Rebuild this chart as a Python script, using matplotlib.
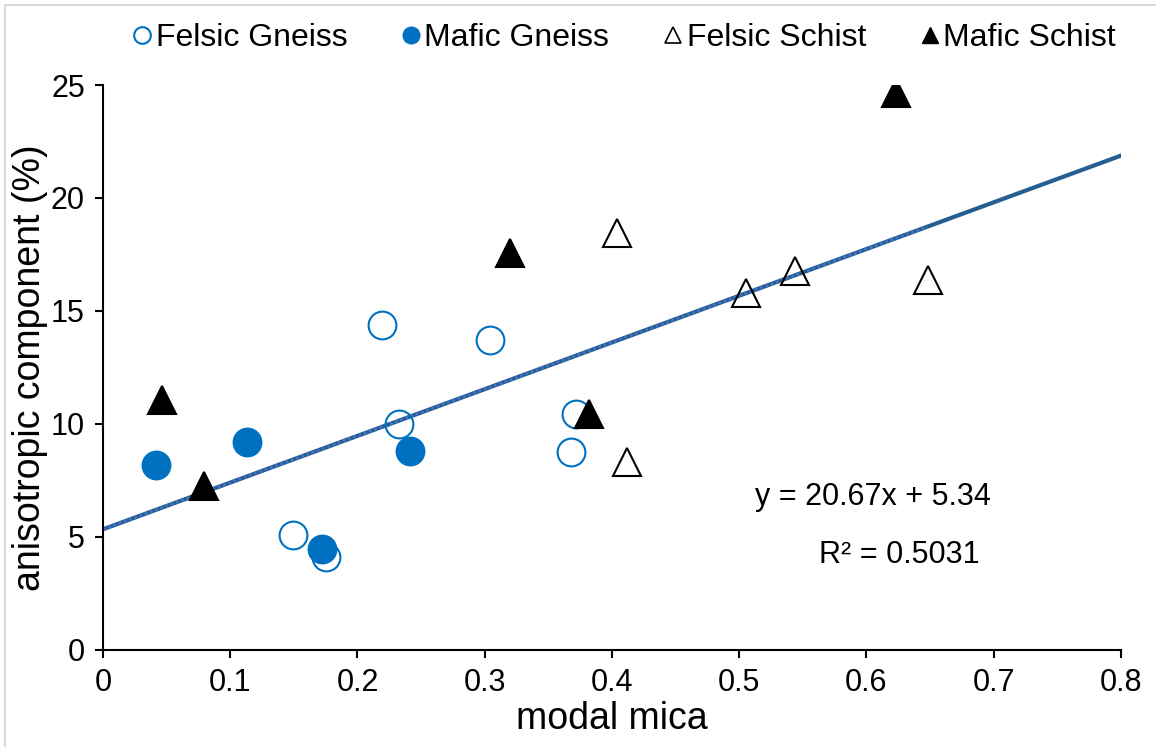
import numpy as np
import matplotlib.pyplot as plt
from matplotlib.lines import Line2D
from matplotlib.patches import Rectangle

plt.rcParams['font.family'] = ['Liberation Sans', 'DejaVu Sans']

# modal mica vs anisotropic component, by rock type
felsic_gneiss_x = [0.149, 0.175, 0.219, 0.233, 0.304, 0.372, 0.368]
felsic_gneiss_y = [5.1, 4.1, 14.4, 10.0, 13.7, 10.45, 8.75]

mafic_gneiss_x = [0.042, 0.113, 0.172, 0.241]
mafic_gneiss_y = [8.2, 9.2, 4.45, 8.8]

felsic_schist_x = [0.404, 0.412, 0.505, 0.544, 0.648]
felsic_schist_y = [18.45, 8.3, 15.8, 16.75, 16.35]

mafic_schist_x = [0.046, 0.079, 0.320, 0.382, 0.623]
mafic_schist_y = [11.05, 7.25, 17.55, 10.45, 24.65]

# linear fit reported on the chart
slope = 20.67
intercept = 5.34
r2 = 0.5031

blue = '#0070C0'

fig = plt.figure(figsize=(11.56, 7.47), dpi=100)
ax = fig.add_axes([0.0891, 0.1299, 0.8806, 0.7563])

# chart border
fig.patches.append(Rectangle((5 / 1156, -0.1), 1.2, 1 - 5 / 747 + 0.1,
                             transform=fig.transFigure, fill=False,
                             edgecolor='#D9D9D9', linewidth=1.5))

# trendline: solid over full range, dotted over data range
xl = np.array([0, 0.8])
ax.plot(xl, slope * xl + intercept, color='#255E91', linewidth=3, zorder=2)
xd = np.array([0, max(felsic_schist_x)])
ax.plot(xd, slope * xd + intercept, color='#4472C4', linewidth=2,
        linestyle=(0, (1, 1)), zorder=2)

ms = 20
ax.plot(felsic_gneiss_x, felsic_gneiss_y, 'o', ms=ms, mfc='none', mec=blue, mew=1.5, zorder=3)
ax.plot(mafic_gneiss_x, mafic_gneiss_y, 'o', ms=ms, mfc=blue, mec=blue, mew=1.5, zorder=3)
ax.plot(felsic_schist_x, felsic_schist_y, '^', ms=ms, mfc='none', mec='black', mew=1.5, zorder=3)
ax.plot(mafic_schist_x, mafic_schist_y, '^', ms=ms, mfc='black', mec='black', mew=1.5, zorder=3)

ax.set_xlim(0, 0.8)
ax.set_ylim(0, 25)
ax.set_xticks(np.arange(0, 0.81, 0.1))
ax.set_xticklabels(['0', '0.1', '0.2', '0.3', '0.4', '0.5', '0.6', '0.7', '0.8'])
ax.set_yticks([0, 5, 10, 15, 20, 25])
ax.tick_params(labelsize=22, length=6, width=1.5, pad=7)
for s in ['top', 'right']:
    ax.spines[s].set_visible(False)
for s in ['left', 'bottom']:
    ax.spines[s].set_linewidth(1.5)

ax.set_xlabel('modal mica', fontsize=27, labelpad=2)
ax.set_ylabel('anisotropic component (%)', fontsize=27, labelpad=2)

ax.text(0.605, 6.77, f'y = {slope}x + {intercept}', fontsize=22, ha='center', va='center')
ax.text(0.626, 4.2, f'R² = {r2}', fontsize=22, ha='center', va='center')

handles = [
    Line2D([], [], marker='o', ls='none', ms=12, mfc='none', mec=blue, mew=1.5),
    Line2D([], [], marker='o', ls='none', ms=12, mfc=blue, mec=blue),
    Line2D([], [], marker='^', ls='none', ms=12, mfc='none', mec='black', mew=1.2),
    Line2D([], [], marker='^', ls='none', ms=12, mfc='black', mec='black'),
]
labels = ['Felsic Gneiss', 'Mafic Gneiss', 'Felsic Schist', 'Mafic Schist']
fig.legend(handles, labels, loc='center', bbox_to_anchor=(0.54, 1 - 38 / 747),
           ncol=4, frameon=False, fontsize=23, handlelength=0.6,
           handletextpad=0.12, columnspacing=1.7)

fig.savefig('out.png', dpi=100)
